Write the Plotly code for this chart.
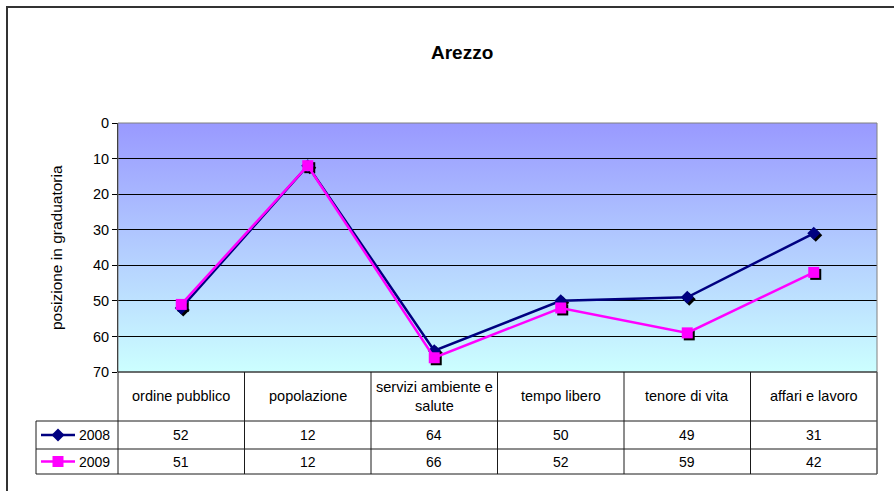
import base64
import plotly.graph_objects as go

# ---------------- data ----------------
categories = ["ordine pubblico", "popolazione", "servizi ambiente e salute",
              "tempo libero", "tenore di vita", "affari e lavoro"]
category_labels = ["ordine pubblico", "popolazione", "servizi ambiente e<br>salute",
                   "tempo libero", "tenore di vita", "affari e lavoro"]
series_names = ["2008", "2009"]
values_2008 = [52, 12, 64, 50, 49, 31]
values_2009 = [51, 12, 66, 52, 59, 42]
y_ticks = [0, 10, 20, 30, 40, 50, 60, 70]
title_text = "Arezzo"
y_title = "posizione in graduatoria"

# ---------------- geometry helpers ----------------
FIG_W, FIG_H = 894, 491
ML, MR, MT, MB = 118, 15, 123, 117
PW = FIG_W - ML - MR   # 761
PH = FIG_H - MT - MB   # 251
SH = 2                 # shadow offset px


def X(p):
    return (p - ML) / PW


def Y(p):
    return (FIG_H - MB - p) / PH


DX = (PW - SH) / PW
main_x_dom = [0, DX]
main_y_dom = [SH / PH, 1]
shadow_x_dom = [SH / PW, 1]
shadow_y_dom = [0, (PH - SH) / PH]

FONT = "Liberation Sans, Arial, sans-serif"
NAVY = "#000080"
MAGENTA = "#FF00FF"

series = [
    dict(name=series_names[0], vals=values_2008, color=NAVY, symbol="diamond", size=10),
    dict(name=series_names[1], vals=values_2009, color=MAGENTA, symbol="square", size=11),
]

fig = go.Figure()

# shadow markers (drawn first, shifted subplot)
for s in series:
    fig.add_trace(go.Scatter(
        x=categories, y=s["vals"], mode="markers", xaxis="x", yaxis="y",
        marker=dict(symbol=s["symbol"], size=s["size"], color="black", line=dict(width=0)),
        hoverinfo="skip", showlegend=False))

# real series
for s in series:
    fig.add_trace(go.Scatter(
        x=categories, y=s["vals"], mode="lines+markers", xaxis="x2", yaxis="y2",
        name=s["name"],
        line=dict(color=s["color"], width=2.5),
        marker=dict(symbol=s["symbol"], size=s["size"], color=s["color"], line=dict(width=0)),
        showlegend=False))

# gradient background image
svg = ("<svg xmlns='http://www.w3.org/2000/svg' width='100' height='100' viewBox='0 0 100 100' "
       "preserveAspectRatio='none'><defs><linearGradient id='g' x1='0' y1='0' x2='0' y2='1'>"
       "<stop offset='0' stop-color='#9999FF'/><stop offset='1' stop-color='#CCFFFF'/>"
       "</linearGradient></defs><rect x='0' y='0' width='100' height='100' fill='url(#g)'/></svg>")
src = "data:image/svg+xml;base64," + base64.b64encode(svg.encode()).decode()

shapes = []
line_c = "#1a1a1a"

# outer chart frame
shapes.append(dict(type="rect", xref="paper", yref="paper",
                   x0=X(7), x1=X(1100), y0=Y(7), y1=Y(1100),
                   line=dict(color="#333333", width=2), fillcolor="rgba(0,0,0,0)"))
# plot area border (grey)
shapes.append(dict(type="rect", xref="paper", yref="paper",
                   x0=0, x1=DX, y0=Y(372), y1=1,
                   line=dict(color="#808080", width=1), fillcolor="rgba(0,0,0,0)"))

# table lines
tab_left, tab_right = 36, ML + (PW - SH)
row_lines = [372, 421, 449, 474]
for i, yy in enumerate(row_lines):
    x0 = ML if i == 0 else tab_left
    shapes.append(dict(type="line", xref="paper", yref="paper",
                       x0=X(x0), x1=X(tab_right), y0=Y(yy), y1=Y(yy),
                       line=dict(color=line_c, width=1)))
shapes.append(dict(type="line", xref="paper", yref="paper",
                   x0=X(tab_left), x1=X(tab_left), y0=Y(421), y1=Y(474),
                   line=dict(color=line_c, width=1)))
n = len(categories)
for k in range(n + 1):
    xx = k / n * DX
    shapes.append(dict(type="line", xref="paper", yref="paper",
                       x0=xx, x1=xx, y0=Y(372), y1=Y(474),
                       line=dict(color=line_c if k < n else "#555555", width=1 if k < n else 1.5)))

# legend keys inside table
row_centers = [435, 461.5]
for s, yc in zip(series, row_centers):
    shapes.append(dict(type="line", xref="paper", yref="paper",
                       x0=X(41), x1=X(75), y0=Y(yc), y1=Y(yc),
                       line=dict(color=s["color"], width=2.5)))
    cx = 58
    if s["symbol"] == "diamond":
        r = 6.5
        path = (f"M {X(cx)},{Y(yc - r)} L {X(cx + r)},{Y(yc)} L {X(cx)},{Y(yc + r)} "
                f"L {X(cx - r)},{Y(yc)} Z")
        shapes.append(dict(type="path", xref="paper", yref="paper", path=path,
                           fillcolor=s["color"], line=dict(width=0)))
    else:
        r = 5.5
        shapes.append(dict(type="rect", xref="paper", yref="paper",
                           x0=X(cx - r), x1=X(cx + r), y0=Y(yc - r), y1=Y(yc + r),
                           fillcolor=s["color"], line=dict(width=0)))

annotations = []
# title
annotations.append(dict(text=f"<b>{title_text}</b>", xref="paper", yref="paper",
                        x=X(462), y=Y(52), xanchor="center", yanchor="middle", showarrow=False,
                        font=dict(family=FONT, size=19, color="black")))
# y title
annotations.append(dict(text=y_title, xref="paper", yref="paper", x=X(56), y=Y(248),
                        xanchor="center", yanchor="middle",
                        textangle=-90, showarrow=False,
                        font=dict(family=FONT, size=15.5, color="black")))
# category labels
for c, lab in zip(categories, category_labels):
    annotations.append(dict(text=lab, xref="x2", yref="paper", x=c, y=Y(396),
                            xanchor="center", yanchor="middle",
                            showarrow=False, font=dict(family=FONT, size=14.5, color="black")))
# values
for s, yc in zip(series, row_centers):
    for c, v in zip(categories, s["vals"]):
        annotations.append(dict(text=str(v), xref="x2", yref="paper", x=c, y=Y(yc),
                                xanchor="center", yanchor="middle",
                                showarrow=False, font=dict(family=FONT, size=14, color="black")))
    annotations.append(dict(text=s["name"], xref="paper", yref="paper", x=X(77), y=Y(yc),
                            xanchor="left", yanchor="middle", showarrow=False,
                            font=dict(family=FONT, size=14, color="black")))

fig.update_layout(
    width=FIG_W, height=FIG_H,
    margin=dict(l=ML, r=MR, t=MT, b=MB, pad=0),
    paper_bgcolor="white",
    plot_bgcolor="rgba(0,0,0,0)",
    showlegend=False,
    xaxis=dict(domain=shadow_x_dom, anchor="y", range=[-0.5, n - 0.5], visible=False,
               type="category", categoryorder="array", categoryarray=categories),
    yaxis=dict(domain=shadow_y_dom, anchor="x", range=[70, 0], visible=False),
    xaxis2=dict(domain=main_x_dom, anchor="y2", range=[-0.5, n - 0.5],
                type="category", categoryorder="array", categoryarray=categories,
                showticklabels=False, showgrid=False, zeroline=False, showline=False, ticks=""),
    yaxis2=dict(domain=main_y_dom, anchor="x2", range=[70, 0], tickvals=y_ticks,
                ticks="outside", ticklen=5, tickcolor="black", tickwidth=1,
                showline=True, linecolor="black", linewidth=1,
                showgrid=True, gridcolor="black", gridwidth=1, zeroline=False,
                tickfont=dict(family=FONT, size=14.5, color="black")),
    images=[dict(source=src, xref="paper", yref="paper", x=0, y=1,
                 sizex=DX, sizey=1 - main_y_dom[0], xanchor="left", yanchor="top",
                 sizing="stretch", layer="below")],
    shapes=shapes,
    annotations=annotations,
)

fig.write_html("out.html", config={"displayModeBar": False},
               post_script="document.body.style.margin='0';document.body.style.overflow='hidden';")
